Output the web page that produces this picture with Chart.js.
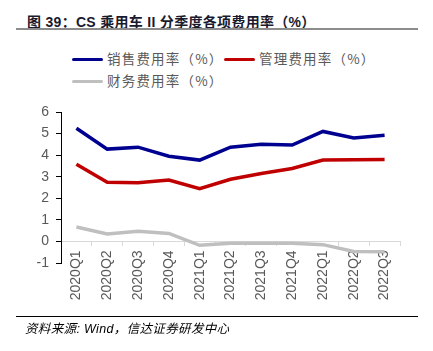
<!DOCTYPE html>
<html>
<head>
<meta charset="utf-8">
<script src="https://cdn.jsdelivr.net/npm/chart.js@4"></script>
<style>
  html, body { margin: 0; padding: 0; background: #fff; }
  #wrap { position: relative; width: 433px; height: 351px; overflow: hidden; }
  #chart { position: absolute; left: 0; top: 0; }
  .title { position: absolute; left: 27px; top: 11px; font: bold 14px "Liberation Sans", "Noto Sans CJK SC", sans-serif; letter-spacing: 0.3px; color: #1a1a2e; white-space: nowrap; }
  .rule-top { position: absolute; left: 16px; top: 28px; width: 402px; height: 1.5px; background: #8c8c8c; }
  .rule-bottom { position: absolute; left: 16px; top: 316px; width: 402px; height: 1px; background: #000; }
  .source { position: absolute; left: 25px; top: 318px; font: italic 12.5px "Liberation Sans", "Noto Sans CJK SC", sans-serif; letter-spacing: 0.35px; color: #000; white-space: nowrap; }
  .legend-item { position: absolute; font: 13.5px "Noto Sans CJK SC", sans-serif; letter-spacing: 1.2px; color: #595959; white-space: nowrap; }
  .legend-item span { display: inline-block; width: 31px; height: 3.5px; vertical-align: middle; margin-right: 4px; position: relative; top: -1px; border-radius: 2px; }
</style>
</head>
<body>
<div id="wrap">
  <div class="title">图 39：CS 乘用车 II 分季度各项费用率（%）</div>
  <div class="rule-top"></div>
  <div id="legend"></div>
  <canvas id="chart" width="433" height="351"></canvas>
  <div class="rule-bottom"></div>
  <div class="source">资料来源: Wind，信达证券研发中心</div>
</div>
<script>
const quarters = ["2020Q1", "2020Q2", "2020Q3", "2020Q4", "2021Q1", "2021Q2", "2021Q3", "2021Q4", "2022Q1", "2022Q2", "2022Q3"];
const sellingRate = [5.25, 4.28, 4.37, 3.95, 3.77, 4.37, 4.5, 4.47, 5.1, 4.8, 4.92];
const adminRate = [3.58, 2.74, 2.72, 2.85, 2.45, 2.88, 3.15, 3.38, 3.77, 3.79, 3.8];
const financeRate = [0.67, 0.35, 0.47, 0.37, -0.18, -0.08, -0.08, -0.08, -0.15, -0.47, -0.48];
const seriesNames = ["销售费用率（%）", "管理费用率（%）", "财务费用率（%）"];
const seriesColors = ["#000090", "#c00000", "#bfbfbf"];

// legend, laid out like the original (two items on the first row, one below)
const legendPos = [[72, 48], [224, 48], [72, 70]];
const legendEl = document.getElementById("legend");
seriesNames.forEach((name, i) => {
  const d = document.createElement("div");
  d.className = "legend-item";
  d.style.left = legendPos[i][0] + "px";
  d.style.top = legendPos[i][1] + "px";
  d.innerHTML = '<span style="background:' + seriesColors[i] + '"></span>' + name;
  legendEl.appendChild(d);
});

const datasets = [sellingRate, adminRate, financeRate].map((values, i) => ({
  label: seriesNames[i],
  data: values,
  borderColor: seriesColors[i],
  backgroundColor: seriesColors[i],
  borderWidth: 3.5,
  pointRadius: 0,
  tension: 0,
  fill: false,
}));

const ctx = document.getElementById("chart").getContext("2d");
new Chart(ctx, {
  type: "line",
  data: { labels: quarters, datasets: datasets },
  options: {
    responsive: false,
    animation: false,
    layout: { padding: { left: 0, top: 112, right: 33, bottom: 88 } },
    plugins: {
      legend: { display: false },
      tooltip: { enabled: false },
    },
    scales: {
      x: {
        position: { y: 0 },
        offset: true,
        grid: {
          offset: true,
          drawOnChartArea: false,
          drawTicks: true,
          tickLength: 4,
          color: "#d9d9d9",
        },
        border: { color: "#d9d9d9", width: 1 },
        ticks: {
          minRotation: 90,
          maxRotation: 90,
          padding: 5,
          color: "#595959",
          font: { family: "Liberation Sans", size: 14 },
        },
      },
      y: {
        min: -1,
        max: 6,
        afterFit: (scale) => { scale.width = 61; },
        grid: {
          drawOnChartArea: false,
          drawTicks: true,
          tickLength: 5,
          color: "#000",
        },
        border: { color: "#000", width: 1 },
        ticks: {
          stepSize: 1,
          padding: 7,
          color: "#595959",
          font: { family: "Liberation Sans", size: 14 },
        },
      },
    },
  },
});
</script>
</body>
</html>
